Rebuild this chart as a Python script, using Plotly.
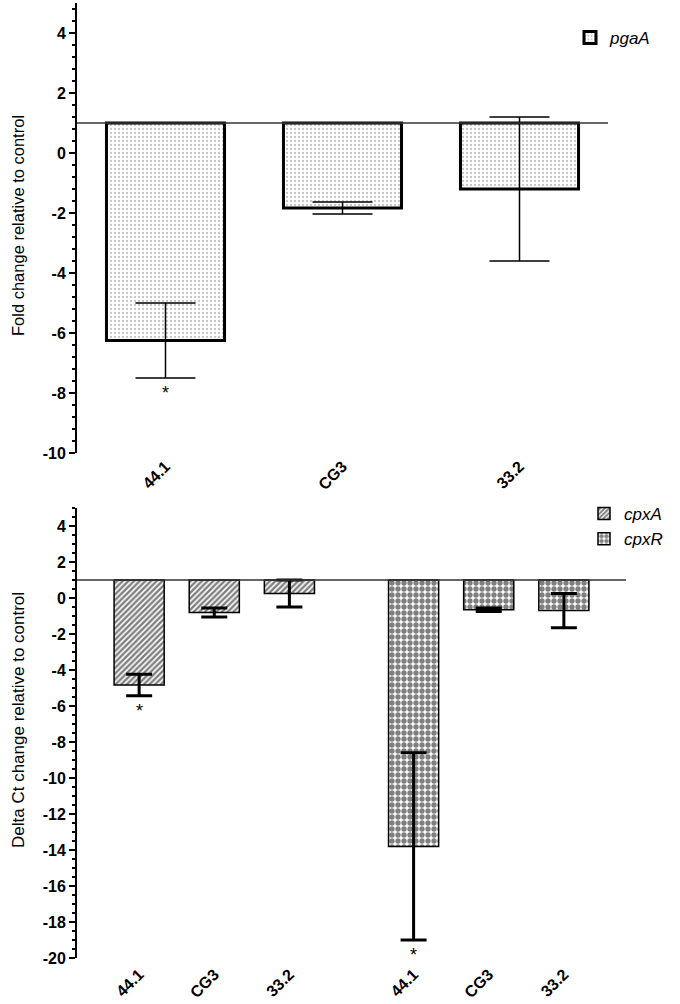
import plotly.graph_objects as go

# ---------------- data ----------------
strains = ["44.1", "CG3", "33.2"]

pgaA_values = [-6.25, -1.83, -1.2]
pgaA_errors = [1.25, 0.2, 2.4]

cpxA_values = [-4.83, -0.8, 0.25]
cpxA_errors = [0.6, 0.25, 0.75]

cpxR_values = [-13.8, -0.65, -0.7]
cpxR_errors = [5.2, 0.1, 0.95]

baseline = 1.0
signif_top = ["*", "", ""]
signif_cpxA = ["*", "", ""]
signif_cpxR = ["*", "", ""]

top_yticks = [4, 2, 0, -2, -4, -6, -8, -10]
bottom_yticks = [4, 2, 0, -2, -4, -6, -8, -10, -12, -14, -16, -18, -20]

# ---------------- layout constants ----------------
W, H = 680, 1004
FONT = "Arial, Liberation Sans, sans-serif"
group_gap = 3.653  # offset of second gene group on the bottom axis


def px_x(p):
    return p / W


def px_y(p):
    return 1 - p / H


fig = go.Figure()

# top panel bars
top_x = list(range(len(strains)))
fig.add_trace(go.Bar(
    x=top_x, y=[v - baseline for v in pgaA_values], base=baseline,
    width=0.667, name="<i>pgaA</i>",
    marker=dict(color="white", line=dict(color="black", width=3),
                pattern=dict(shape=".", fgcolor="#888888", bgcolor="white", size=4, solidity=0.25)),
    error_y=dict(type="data", array=pgaA_errors, color="black", thickness=1.5, width=30),
    xaxis="x", yaxis="y", legend="legend",
))

# bottom panel bars
bot_x_a = list(range(len(strains)))
bot_x_r = [i + group_gap for i in range(len(strains))]
fig.add_trace(go.Bar(
    x=bot_x_a, y=[v - baseline for v in cpxA_values], base=baseline,
    width=0.667, name="<i>cpxA</i>",
    marker=dict(color="white", line=dict(color="black", width=1.5),
                pattern=dict(shape="/", fgcolor="black", bgcolor="white", size=4, solidity=0.6)),
    error_y=dict(type="data", array=cpxA_errors, color="black", thickness=3, width=13),
    xaxis="x2", yaxis="y2", legend="legend2",
))
fig.add_trace(go.Bar(
    x=bot_x_r, y=[v - baseline for v in cpxR_values], base=baseline,
    width=0.667, name="<i>cpxR</i>",
    marker=dict(color="white", line=dict(color="black", width=1.5),
                pattern=dict(shape=".", fgcolor="black", bgcolor="white", size=6, solidity=0.62)),
    error_y=dict(type="data", array=cpxR_errors, color="black", thickness=3, width=13),
    xaxis="x2", yaxis="y2", legend="legend2", cliponaxis=False,
))

# baselines at 1
fig.add_shape(type="line", xref="x domain", yref="y", x0=0, x1=1, y0=baseline, y1=baseline,
              line=dict(color="#333333", width=1.5), layer="above")
fig.add_shape(type="line", xref="x2 domain", yref="y2", x0=0, x1=1, y0=baseline, y1=baseline,
              line=dict(color="#333333", width=1.5), layer="above")

# significance stars
ann = []
for xref, yref, xs, vals, errs, sig in [
    ("x", "y", top_x, pgaA_values, pgaA_errors, signif_top),
    ("x2", "y2", bot_x_a, cpxA_values, cpxA_errors, signif_cpxA),
    ("x2", "y2", bot_x_r, cpxR_values, cpxR_errors, signif_cpxR),
]:
    for x, v, e, s in zip(xs, vals, errs, sig):
        if s:
            ann.append(dict(x=x, y=v - e, xref=xref, yref=yref, text=s, showarrow=False,
                            yanchor="top", yshift=-3, font=dict(size=18, color="black", family=FONT)))

# y titles
ann.append(dict(x=px_x(18), y=px_y(226), xref="paper", yref="paper", text="Fold change relative to control",
                textangle=-90, showarrow=False, xanchor="center", yanchor="middle",
                font=dict(size=16.5, color="black", family=FONT)))
ann.append(dict(x=px_x(18), y=px_y(720), xref="paper", yref="paper", text="Delta Ct change relative to control",
                textangle=-90, showarrow=False, xanchor="center", yanchor="middle",
                font=dict(size=17, color="black", family=FONT)))

yaxis_common = dict(
    showline=True, linecolor="black", linewidth=2, ticks="outside", ticklen=6, tickwidth=2,
    tickcolor="black", showgrid=False, zeroline=False,
    tickfont=dict(family=FONT, size=16, color="black", weight="bold"),
    automargin=False,
)

xaxis_common = dict(
    showline=False, showgrid=False, zeroline=False, ticks="", tickangle=-45,
    tickfont=dict(family=FONT, size=16, color="black", weight="bold"),
    automargin=False,
)

fig.update_layout(
    width=W, height=H,
    margin=dict(l=0, r=0, t=0, b=0),
    paper_bgcolor="white", plot_bgcolor="white",
    barmode="overlay",
    font=dict(family=FONT, color="black"),
    xaxis=dict(domain=[px_x(77), px_x(608)], range=[-0.5, 2.5], anchor="y",
               tickvals=top_x, ticktext=strains, ticklabelstandoff=0, **xaxis_common),
    yaxis=dict(domain=[px_y(453), px_y(3)], range=[-10, 5], anchor="x",
               tickvals=top_yticks, ticktext=[str(t) for t in top_yticks],
               minor=dict(dtick=0.4, tick0=-10, ticks="outside", ticklen=3, tickcolor="black", tickwidth=1.5),
               **yaxis_common),
    xaxis2=dict(domain=[px_x(77), px_x(626)], range=[-0.827, 6.48], anchor="y2",
                tickvals=bot_x_a + bot_x_r, ticktext=strains + strains, ticklabelstandoff=3, **xaxis_common),
    yaxis2=dict(domain=[px_y(958), px_y(508)], range=[-20, 5], anchor="x2",
                tickvals=bottom_yticks, ticktext=[str(t) for t in bottom_yticks],
                minor=dict(dtick=0.5, tick0=-20, ticks="outside", ticklen=3, tickcolor="black", tickwidth=1.5),
                **yaxis_common),
    legend=dict(x=px_x(570), y=px_y(20), xanchor="left", yanchor="top", bgcolor="rgba(0,0,0,0)",
                font=dict(family=FONT, size=17, color="black"), itemwidth=30),
    legend2=dict(x=px_x(584), y=px_y(496), xanchor="left", yanchor="top", bgcolor="rgba(0,0,0,0)",
                 font=dict(family=FONT, size=17, color="black"), itemwidth=30, tracegroupgap=0),
    annotations=ann,
    showlegend=True,
)

fig.write_html(
    "out.html",
    config={"displayModeBar": False},
    post_script="document.body.style.margin='0';document.body.style.overflow='hidden';"
                "document.documentElement.style.overflow='hidden';",
)
